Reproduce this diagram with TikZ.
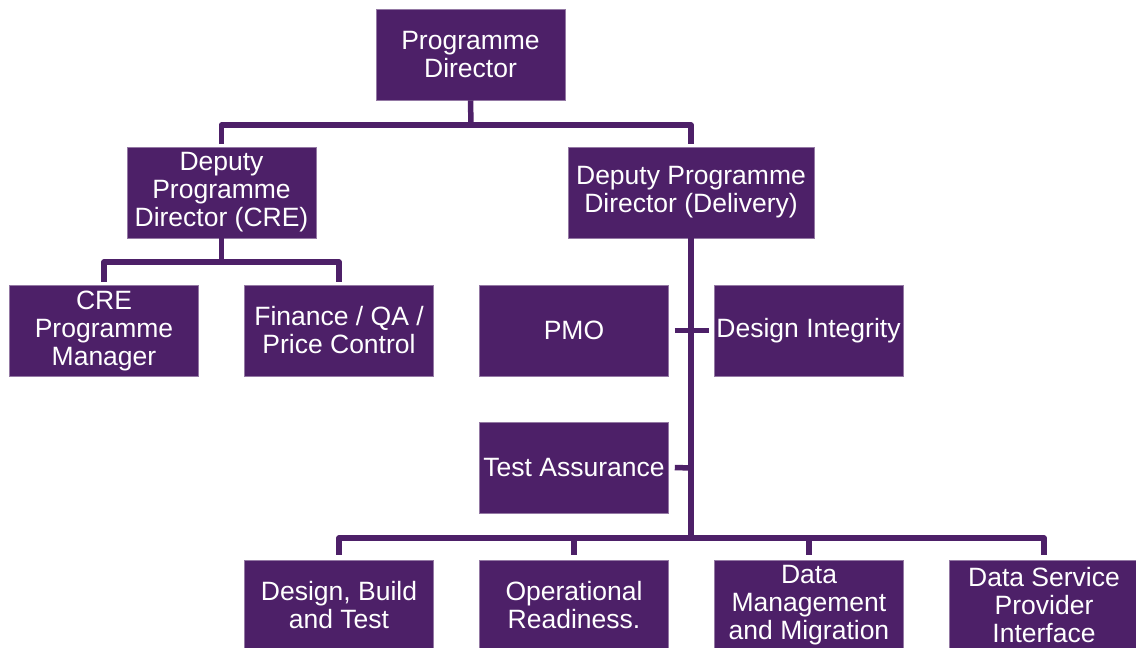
\documentclass[tikz,border=0pt]{standalone}
\usepackage{fontspec}
\setmainfont{Liberation Sans}
\definecolor{orgpurple}{HTML}{4D2068}
\begin{document}
\begin{tikzpicture}[x=1pt, y=-1pt,
  role/.style={fill=orgpurple, draw=orgpurple!60, line width=0.6pt, inner sep=0pt,
    minimum width=189pt, minimum height=91pt, text=white, align=center,
    font=\fontsize{26.5}{28}\selectfont},
  widerole/.style={role, minimum width=246pt},
  link/.style={draw=orgpurple, line width=5.5pt, line join=round}
]
\clip (0,0) rectangle (1136,648);
\fill[white] (0,0) rectangle (1136,648);

% top level
\node[role] (pd) at (470.5,54.5) {Programme\\Director};

% deputies
\node[role] (dcre) at (221.5,192.5) {Deputy\\Programme\\Director (CRE)};
\node[widerole] (ddel) at (691,192.5) {Deputy Programme\\Director (Delivery)};

% CRE branch
\node[role] (cre) at (104,330.5) {CRE\\Programme\\Manager};
\node[role] (fin) at (339,330.5) {Finance / QA /\\Price Control};

% delivery support functions
\node[role] (pmo) at (574,330.5) {PMO};
\node[role] (di) at (808.5,330.5) {Design Integrity};
\node[role] (ta) at (574,467.5) {Test Assurance};

% delivery workstreams
\node[role] (dbt) at (339,605.5) {Design, Build\\and Test};
\node[role] (opr) at (574,605.5) {Operational\\Readiness.};
\node[role] (dmm) at (809,605.5) {Data\\Management\\and Migration};
\node[role] (dsp) at (1044,605.5) {Data Service\\Provider\\Interface};

% junction points
\coordinate (jtop) at (471,125);
\coordinate (jcre) at (221.5,262);
\coordinate (jta) at (691,468);
\coordinate (jbot) at (691,538);

% connectors
\draw[link] (pd.south) -- (jtop);
\draw[link, shorten <=3pt, shorten >=3pt] (dcre.north) |- (jtop) -| (ddel.north);

\draw[link] (dcre.south) -- (jcre);
\draw[link, shorten <=3pt, shorten >=3pt] (cre.north) |- (jcre) -| (fin.north);

\draw[link] (ddel.south) -- (jbot);
\draw[link] ([xshift=6pt]pmo.east) -- ([xshift=-5pt]di.west);
\draw[link] ([xshift=6pt]ta.east) -- (jta);

\draw[link, shorten <=5pt] (dbt.north) |- (jbot);
\draw[link, shorten >=5pt] (jbot) -| (dsp.north);
\draw[link, shorten <=5pt] (opr.north) -- (opr.north |- jbot);
\draw[link, shorten <=5pt] (dmm.north) -- (dmm.north |- jbot);
\end{tikzpicture}
\end{document}
